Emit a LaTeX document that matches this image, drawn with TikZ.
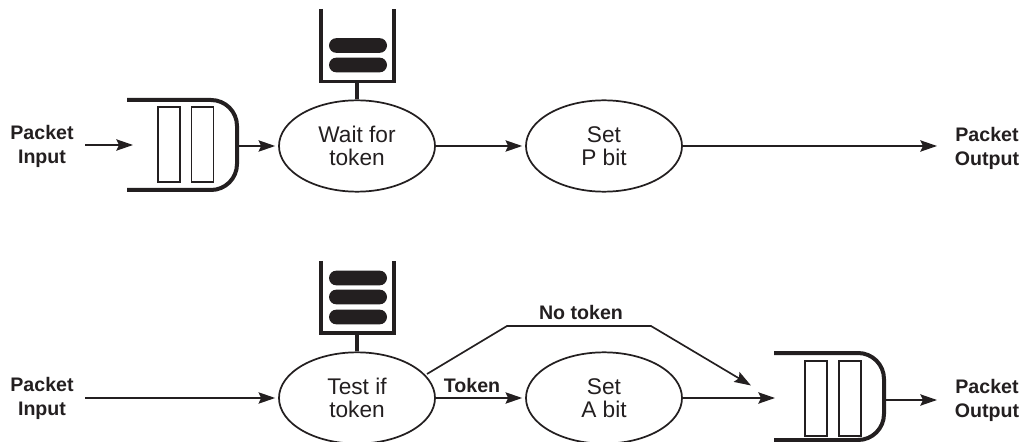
\documentclass[tikz,border=0pt]{standalone}
\usepackage{fontspec}
\setmainfont{Liberation Sans}
\usetikzlibrary{arrows.meta,shapes.geometric,shapes.misc}
\definecolor{ink}{HTML}{231F20}
\tikzset{
  x=0.75pt,y=-0.75pt,
  every node/.style={text=ink},
  proc/.style={draw=ink,line width=1.3pt,ellipse,minimum width=117pt,minimum height=68.5pt,inner sep=0pt,align=center,font=\fontsize{17}{17.5}\selectfont},
  side/.style={align=center,font=\fontsize{14.7}{18.3}\selectfont\bfseries,inner sep=0pt},
  lbl/.style={font=\fontsize{14.7}{18}\selectfont\bfseries,inner sep=0pt},
  slot/.style={draw=ink,line width=1.1pt,minimum width=16.5pt,minimum height=56pt,inner sep=0pt},
  pill/.style={fill=ink,rounded rectangle,minimum width=43.5pt,minimum height=11pt,inner sep=0pt},
  wall/.style={draw=ink,line width=3pt,rounded corners=19.5pt},
  bucket/.style={draw=ink,line width=2.8pt},
  stem/.style={draw=ink,line width=3.6pt},
  conn/.style={draw=ink,line width=1.25pt,-{Stealth[length=12.5pt,width=8.5pt,inset=2pt]}},
  toproc/.style={conn,shorten >=2.2pt},
}
\begin{document}
\begin{tikzpicture}
\useasboundingbox (0,0) rectangle (1022,442);
% top row
\node[proc] (w) at (357,146) {Wait for\\token};
\node[proc] (p) at (604,146) {Set\\P bit};
\node[side] (in1) at (42,146.5) {Packet\\Input};
\node[side] (out1) at (987,148.5) {Packet\\Output};
\node[slot] at (169,144.5) {};
\node[slot] at (202.5,144.5) {};
\draw[wall] (127,100) -- (237,100) -- (237,190) -- (127,190);
\coordinate (q1in) at (133,145);
\coordinate (q1out) at (238,146);
\coordinate (in1e) at (85,145);
\coordinate (b1) at (357,82);
\draw[bucket] (321,9) -- (321,81.5) -- (394,81.5) -- (394,9);
\node[pill] at (358,45.5) {};
\node[pill] at (358,65) {};
\draw[stem] (b1) -- (w.north);
\draw[conn] (in1e) -- (q1in);
\draw[toproc] (q1out) -- (w.west);
\draw[toproc] (w.east) -- (p.west);
\coordinate (o1) at (937,146);
\draw[conn] (p.east) -- (o1);
% bottom row
\node[proc] (t) at (357,398) {Test if\\token};
\node[proc] (a) at (604,398) {Set\\A bit};
\node[side] (in2) at (42,398.5) {Packet\\Input};
\node[side] (out2) at (987,400.5) {Packet\\Output};
\node[slot] at (816,398.5) {};
\node[slot] at (850,398.5) {};
\draw[wall] (774,353) -- (884,353) -- (884,440) -- (774,440);
\coordinate (b2) at (357,334);
\draw[bucket] (321,261) -- (321,333) -- (394,333) -- (394,261);
\node[pill] at (358,278) {};
\node[pill] at (358,297) {};
\node[pill] at (358,317) {};
\draw[stem] (b2) -- (t.north);
\coordinate (in2e) at (85,398);
\draw[toproc] (in2e) -- (t.west);
\draw[toproc] (t.east) -- (a.west);
\coordinate (a2) at (775,398);
\draw[conn] (a.east) -- (a2);
\coordinate (nt0) at (427,374);
\coordinate (nt1) at (507,326);
\coordinate (nt2) at (651,326);
\coordinate (nt3) at (751,385.5);
\draw[conn] (nt0) -- (nt1) -- (nt2) -- (nt3);
\coordinate (q2out) at (885,400);
\coordinate (o2) at (937,400);
\draw[conn] (q2out) -- (o2);
\node[lbl] (tl) at (472,385) {Token};
\node[lbl] (nl) at (581,312) {No token};
\end{tikzpicture}
\end{document}
